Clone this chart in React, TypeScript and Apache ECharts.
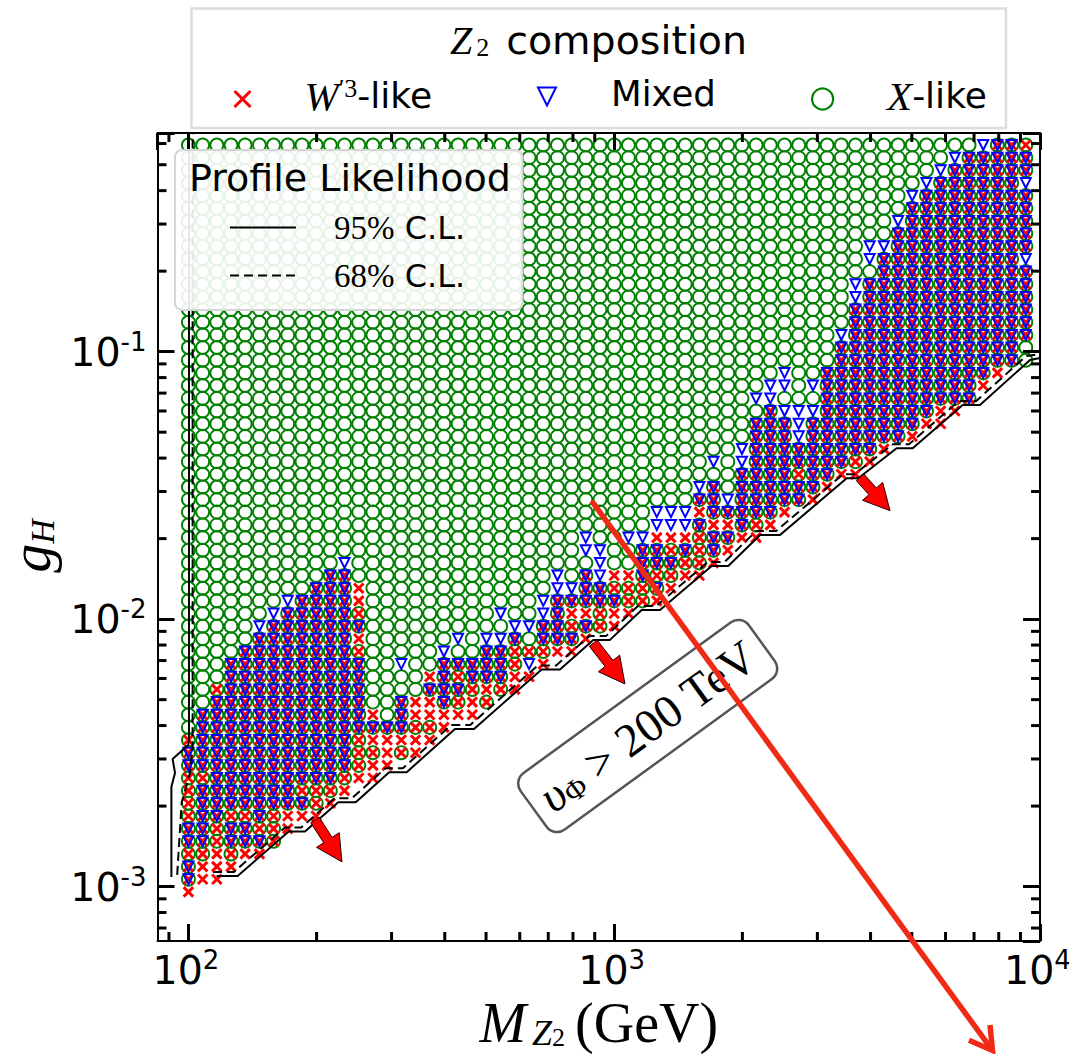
import React, { useEffect, useRef } from "react";
import * as echarts from "echarts";

const massGrid = [100,108,116.6,125.9,135.9,146.8,158.5,171.1,184.8,199.5,215.4,232.6,251.2,271.2,292.9,316.2,341.5,368.7,398.1,429.9,464.2,501.2,541.2,584.3,631,681.3,735.6,794.3,857.7,926.1,1000,1080,1166,1259,1359,1468,1585,1711,1848,1995,2154,2326,2512,2712,2929,3162,3415,3687,3981,4299,4642,5012,5412,5843,6310,6813,7356,7943,8577,9261];
const gGrid = [9.554e-4,1.0654e-3,1.188e-3,1.3247e-3,1.4772e-3,1.6472e-3,1.8368e-3,2.0482e-3,2.2839e-3,2.5468e-3,2.8399e-3,3.1668e-3,3.5312e-3,3.9377e-3,4.3908e-3,4.8962e-3,5.4597e-3,6.0881e-3,6.7888e-3,7.5701e-3,8.4413e-3,9.4129e-3,1.0496e-2,1.1704e-2,1.3051e-2,1.4554e-2,1.6229e-2,1.8097e-2,2.018e-2,2.2502e-2,2.5124e-2,2.798e-2,3.12e-2,3.4791e-2,3.8795e-2,4.3261e-2,4.824e-2,5.3792e-2,5.9983e-2,6.6887e-2,0.07472,0.08331,0.09291,0.10361,0.11554,0.12883,0.14367,0.1602,0.17864,0.19924,0.22218,0.24777,0.27629,0.3081,0.34358,0.38314,0.42725,0.47644,0.53129,0.59247];

// One string per mass column, bottom row upward.
// . no point, G X-like, R W'3-like, X W'3-like + X-like, B Mixed, T all three.
// A number repeats the letter; a final G runs to the top row.
const cellRuns = [
  "R T2 X T2 X4 T2 X G",
  ".1 R2 X T5 X T5 G",
  ".1 R3 X2 T10 X G",
  ".2 R X T2 X T12 G",
  ".3 R T2 X T13 G",
  ".3 R T X T15 B G",
  ".4 X3 T15 B G",
  ".5 R2 T16 B G",
  ".6 R T X T15 G",
  ".6 R X2 T16 G",
  ".7 R X T17 G",
  ".8 R X T16 B G",
  ".9 R X3 T6 X R T X R2 G",
  ".9 R2 X R T R G",
  ".10 R3 T G",
  ".11 X R T3 G2 B G",
  ".11 R2 X R2 G",
  ".12 R X R2 T R G",
  ".13 R2 T4 B G",
  ".14 R X T X T G B G",
  ".14 R2 X T2 G",
  ".15 X R T3 B G",
  ".16 X T3 B G B G",
  ".16 R2 X2 T B G",
  ".17 R B X G B G",
  ".18 R X T2 B2 G",
  ".19 R T4 B2 G",
  ".19 R T X R T B G",
  ".20 R T R T3 G B2 G",
  ".21 X2 T2 B3 G",
  ".21 R2 T X R G",
  ".22 R X2 R G2 B G",
  ".23 X2 T3 B G",
  ".23 R T X T2 R B2 G",
  ".24 R X T X R B2 G",
  ".25 R X T R B2 G",
  ".25 R X3 T R T B G",
  ".26 R T2 R T3 G B G",
  ".27 R T R T B G",
  ".28 R T5 B2 G",
  ".28 R X T8 G B G",
  ".29 R T9 B2 G",
  ".30 R T7 B G B2 G",
  ".31 T2 X T2 B3 G",
  ".31 R T6 B G B G",
  ".32 R T9 G",
  ".33 R T10 B G",
  ".33 R X T12 B2 G",
  ".34 R T14 G B2 G",
  ".35 R T15 B G",
  ".36 T17 B G",
  ".36 R T18 B G",
  ".37 R T18 B G",
  ".37 R2 T18 B G",
  ".38 R T19 B G",
  ".39 T20 G",
  ".40 R T18 B",
  ".41 R T18",
  ".42 T18",
  ".42 G2 T6 B T5 B T2 X",
];

const solid95Edge = [[91.2,1.087e-3],[91.2,2.359e-3],[93,2.66e-3],[91.8,3e-3],[99.9,3.385e-3],[100.3,3.536e-3],[100.3,0.657]];
const solid95Diagonal = [[116.5,1.0965e-3],[130.5,1.0965e-3],[172,1.6054e-3],[187.8,1.6054e-3],[224.8,2.0681e-3],[247.1,2.0681e-3],[296.2,2.677e-3],[325.5,2.677e-3],[422.7,3.887e-3],[468.5,3.887e-3],[675.4,6.486e-3],[745.8,6.486e-3],[892.9,8.364e-3],[977.3,8.364e-3],[1160,1.0824e-2],[1281,1.0824e-2],[1694,1.581e-2],[1853,1.581e-2],[2200,2.0645e-2],[2451,2.0645e-2],[3516,3.3624e-2],[3743,3.3624e-2],[4605,4.3543e-2],[5023,4.3543e-2],[6583,6.319e-2],[7228,6.319e-2],[9474,9.311e-2],[10000,9.472e-2]];
const dashed68Edge = [[94.1,1.106e-3],[96.4,2.056e-3],[100.8,2.66e-3],[102.3,3.328e-3],[102.3,0.657]];
const dashed68Diagonal = [[114.2,1.135e-3],[127.9,1.135e-3],[168.6,1.662e-3],[184,1.662e-3],[220.3,2.14e-3],[242.2,2.14e-3],[290.3,2.771e-3],[319,2.771e-3],[414.2,4.023e-3],[459.1,4.023e-3],[661.9,6.713e-3],[730.9,6.713e-3],[875,8.657e-3],[957.8,8.657e-3],[1137,1.12e-2],[1255,1.12e-2],[1660,1.636e-2],[1816,1.636e-2],[2156,2.137e-2],[2402,2.137e-2],[3446,3.48e-2],[3668,3.48e-2],[4513,4.507e-2],[4923,4.507e-2],[6451,6.54e-2],[7083,6.54e-2],[9285,9.637e-2],[10000,9.8e-2]];

const fatArrows = [
  [198.2,1.775e-3,229.4,1.237e-3],
  [892.9,8.128e-3,1060,5.723e-3],
  [3778,3.392e-2,4443,2.544e-2],
];
const longArrow = [[885.2,0.02766,7808,2.39e-4]];

const xTickExponents = [2,3,4];
const yTickExponents = [-3,-2,-1];
const xMinorTicks = [90,200,300,400,500,600,700,800,900,2000,3000,4000,5000,6000,7000,8000,9000];
const yMinorTicks = [7e-4,8e-4,9e-4,2e-3,3e-3,4e-3,5e-3,6e-3,7e-3,8e-3,9e-3,2e-2,3e-2,4e-2,5e-2,6e-2,7e-2,8e-2,9e-2,0.2,0.3,0.4,0.5,0.6];

const SANS = "DejaVu Sans";
const SERIF = "Liberation Serif";
const TICK_RICH = {
  b: { fontFamily: SANS, fontSize: 39.5, color: "#000", lineHeight: 46 },
  s: { fontFamily: SANS, fontSize: 26, color: "#000", lineHeight: 24, verticalAlign: "top", padding: [0, 5, 0, 0] },
};
const NAME_W = "W\u2032\u00b3-like";

function decodeCells() {
  const green: number[][] = [], red: number[][] = [], blue: number[][] = [];
  cellRuns.forEach((run, c) => {
    const tokens = run.split(" ");
    let r = 0;
    tokens.forEach((tok, i) => {
      const letter = tok[0];
      let n = tok.length > 1 ? parseInt(tok.slice(1), 10) : 1;
      if (letter === "G" && tok.length === 1 && i === tokens.length - 1) n = gGrid.length - r;
      for (let k = 0; k < n && r < gGrid.length; k++, r++) {
        const p = [massGrid[c], gGrid[r]];
        if (letter === "G" || letter === "X" || letter === "T") green.push(p);
        if (letter === "R" || letter === "X" || letter === "T") red.push(p);
        if (letter === "B" || letter === "T") blue.push(p);
      }
    });
  });
  return { green, red, blue };
}

function tickSide(a: number[], len: number, dx: number, dy: number) {
  return {
    type: "line",
    shape: { x1: a[0], y1: a[1], x2: a[0] + dx * len, y2: a[1] + dy * len },
    style: { stroke: "#000", lineWidth: 3 },
  };
}

function buildOption() {
  const { green, red, blue } = decodeCells();
  const axisLine = { show: true, onZero: false, lineStyle: { color: "#000", width: 2 } };
  const axisTick = { show: true, inside: true, length: 17, lineStyle: { color: "#000", width: 3 } };
  const xBase = { type: "log", logBase: 10, min: 84.6, max: 10000, splitLine: { show: false }, minorTick: { show: false }, axisLine, axisTick, z: 5 };
  const yBase = { type: "log", logBase: 10, min: 6.26e-4, max: 0.657, splitLine: { show: false }, minorTick: { show: false }, axisLine, axisTick, z: 5 };
  const legendItem = (name: string, left: number, top: number, fmt: string, rich: any, w: number, h: number, itemStyle: any) => ({
    data: [name], left, top, itemWidth: w, itemHeight: h, selectedMode: false, z: 8, padding: 0, itemStyle,
    formatter: () => fmt, textStyle: { color: "#000", rich },
  });
  const compRich = {
    m: { fontFamily: SERIF, fontStyle: "italic", fontSize: 41, color: "#000", padding: [0, 0, 7, 0] },
    p: { fontFamily: SERIF, fontSize: 26, color: "#000", verticalAlign: "top", lineHeight: 24 },
    t: { fontFamily: SANS, fontSize: 36, color: "#000", padding: [0, 0, 7, 0] },
  };
  const clRich = {
    m: { fontFamily: SERIF, fontSize: 33, color: "#000", padding: [0, 0, 0, 33] },
    t: { fontFamily: SANS, fontSize: 32, color: "#000" },
  };
  return {
    animation: false,
    backgroundColor: "#fff",
    grid: { left: 157.5, top: 133, width: 882.5, height: 808, containLabel: false, outerBoundsMode: "none" },
    xAxis: [
      {
        ...xBase, position: "bottom",
        axisLabel: {
          show: true, margin: 6, showMinLabel: false,
          formatter: (v: number) => {
            const e = Math.round(Math.log10(v));
            return xTickExponents.includes(e) && Math.abs(Math.log10(v) - e) < 1e-6 ? `{b|10}{s|${e}}` : "";
          },
          rich: TICK_RICH,
        },
        name: "{i|M}{z|Z}{n|2}{r|(GeV)}", nameLocation: "middle", nameGap: 43,
        nameTextStyle: {
          rich: {
            i: { fontFamily: SERIF, fontStyle: "italic", fontSize: 56, color: "#000", padding: [0, 6, 0, 0] },
            z: { fontFamily: SERIF, fontStyle: "italic", fontSize: 36, color: "#000", verticalAlign: "bottom", lineHeight: 42 },
            n: { fontFamily: SERIF, fontSize: 26, color: "#000", verticalAlign: "bottom", lineHeight: 30, padding: [0, 10, 0, 0] },
            r: { fontFamily: SERIF, fontSize: 56, color: "#000" },
          },
        },
      },
      { ...xBase, position: "top", axisLabel: { show: false } },
    ],
    yAxis: [
      {
        ...yBase, position: "left",
        axisLabel: {
          show: true, margin: 6, showMinLabel: false,
          formatter: (v: number) => {
            const e = Math.round(Math.log10(v));
            return yTickExponents.includes(e) && Math.abs(Math.log10(v) - e) < 1e-6 ? `{b|10}{s|${e}}` : "";
          },
          rich: TICK_RICH,
        },
        name: "{i|g}{h|H}", nameLocation: "middle", nameGap: 96, nameRotate: 90,
        nameTextStyle: {
          rich: {
            i: { fontFamily: SERIF, fontStyle: "italic", fontSize: 58, color: "#000" },
            h: { fontFamily: SERIF, fontStyle: "italic", fontSize: 34, color: "#000", verticalAlign: "bottom", lineHeight: 36, padding: [0, 18, 0, 0] },
          },
        },
      },
      { ...yBase, position: "right", axisLabel: { show: false } },
    ],
    legend: [
      legendItem(NAME_W, 233, 75, "{m|W}{p|\u20323}{t|-like}", { ...compRich, m: { ...compRich.m, padding: [0, 0, 7, 49] } }, 16, 16, { borderWidth: 3 }),
      legendItem("Mixed", 537, 75, "{t|Mixed}", { ...compRich, t: { ...compRich.t, fontSize: 35.5, padding: [0, 0, 7, 50] } }, 18, 18, { borderWidth: 2 }),
      legendItem("X-like", 811, 75, "{m|X}{t|-like}", { ...compRich, m: { ...compRich.m, padding: [0, 0, 7, 49] } }, 21, 21, { borderWidth: 2.2 }),
      legendItem("95% C.L.", 229, 211, "{m|95%}{t| C.L.}", clRich, 66, 14, { opacity: 0 }),
      legendItem("68% C.L.", 229, 259, "{m|68%}{t| C.L.}", clRich, 66, 14, { opacity: 0 }),
    ],
    graphic: {
      elements: [
        { type: "rect", z: 7, shape: { x: 191.5, y: 8.5, width: 814.5, height: 119.5 }, style: { fill: "#fff", stroke: "#dcdcdc", lineWidth: 2.5 } },
        {
          type: "text", z: 8, x: 450, y: 40,
          style: {
            text: "{m|Z}{s|2}{t|composition}", verticalAlign: "middle", align: "left",
            rich: {
              m: { fontFamily: SERIF, fontStyle: "italic", fontSize: 40, fill: "#000", padding: [0, 4, 0, 0] },
              s: { fontFamily: SERIF, fontSize: 26, fill: "#000", verticalAlign: "bottom", lineHeight: 34, padding: [0, 17, 0, 0] },
              t: { fontFamily: SANS, fontSize: 39.5, fill: "#000" },
            },
          },
        },
        { type: "rect", z: 7, shape: { x: 175, y: 150, width: 347.5, height: 160, r: 7 }, style: { fill: "rgba(255,255,255,0.9)", stroke: "#d5d5d5", lineWidth: 2 } },
        { type: "text", z: 8, x: 189, y: 178, style: { text: "Profile Likelihood", fontFamily: SANS, fontSize: 38, fill: "#000", verticalAlign: "middle" } },
        {
          type: "group", x: 647.7, y: 726, rotation: (36 * Math.PI) / 180, z: 1,
          children: [
            { type: "rect", z: 1, shape: { x: -141, y: -35, width: 282, height: 70, r: 13 }, style: { fill: "#fff", stroke: "#555", lineWidth: 2.5 } },
            {
              type: "text", z: 1, x: 0, y: 0,
              style: {
                text: "{i|\u03c5}{s|\u03a6}{r| > 200 TeV}", align: "center", verticalAlign: "middle",
                rich: {
                  i: { fontFamily: SERIF, fontStyle: "italic", fontSize: 47, fill: "#000" },
                  s: { fontFamily: SERIF, fontSize: 30, fill: "#000", verticalAlign: "bottom", lineHeight: 42 },
                  r: { fontFamily: SERIF, fontSize: 47, fill: "#000" },
                },
              },
            },
          ],
        },
      ],
    },
    series: [
      { name: "X-like", type: "scatter", data: green, z: 2, symbol: "circle", symbolSize: 13, itemStyle: { color: "transparent", borderColor: "#008000", borderWidth: 1.9, opacity: 1 }, silent: true },
      { name: NAME_W, type: "scatter", data: red, z: 2.1, symbol: "path://M0,0L10,10M10,0L0,10", symbolSize: 9.5, itemStyle: { color: "transparent", borderColor: "#ff0000", borderWidth: 3, opacity: 1 }, silent: true },
      { name: "Mixed", type: "scatter", data: blue, z: 2.2, symbol: "path://M0,0L10,0L5,10Z", symbolSize: 10, itemStyle: { color: "transparent", borderColor: "#0000ff", borderWidth: 2, opacity: 1 }, silent: true },
      { name: "95% C.L.", type: "line", data: solid95Diagonal, z: 3, symbol: "none", lineStyle: { color: "#000", width: 2 }, silent: true },
      { name: "95% C.L.", type: "line", data: solid95Edge, z: 3, symbol: "none", lineStyle: { color: "#000", width: 2 }, silent: true },
      { name: "68% C.L.", type: "line", data: dashed68Diagonal, z: 3, symbol: "none", lineStyle: { color: "#000", width: 2, type: [9, 5] }, silent: true },
      { name: "68% C.L.", type: "line", data: dashed68Edge, z: 3, symbol: "none", lineStyle: { color: "#000", width: 2, type: [9, 5] }, silent: true },
      {
        type: "custom", name: "xMinor", z: 4, silent: true, data: xMinorTicks.map((v) => [v, 0.01]),
        renderItem: (params: any, api: any) => {
          const x = api.coord([api.value(0), 0.01])[0];
          const cs = params.coordSys;
          return { type: "group", children: [tickSide([x, cs.y + cs.height], 9, 0, -1), tickSide([x, cs.y], 9, 0, 1)] };
        },
      },
      {
        type: "custom", name: "yMinor", z: 4, silent: true, data: yMinorTicks.map((v) => [100, v]),
        renderItem: (params: any, api: any) => {
          const y = api.coord([100, api.value(1)])[1];
          const cs = params.coordSys;
          return { type: "group", children: [tickSide([cs.x, y], 9, 1, 0), tickSide([cs.x + cs.width, y], 9, -1, 0)] };
        },
      },
      {
        type: "custom", name: "Arrows", z: 6, silent: true, data: fatArrows,
        renderItem: (_: any, api: any) => {
          const a = api.coord([api.value(0), api.value(1)]);
          const b = api.coord([api.value(2), api.value(3)]);
          const dx = b[0] - a[0], dy = b[1] - a[1], L = Math.hypot(dx, dy);
          const ux = dx / L, uy = dy / L, nx = -uy, ny = ux;
          const hl = 26, hw = 13.5, sw = 5;
          const bx = b[0] - ux * hl, by = b[1] - uy * hl;
          return {
            type: "polygon",
            shape: {
              points: [
                [a[0] + nx * sw, a[1] + ny * sw], [bx + nx * sw, by + ny * sw], [bx + nx * hw, by + ny * hw], b,
                [bx - nx * hw, by - ny * hw], [bx - nx * sw, by - ny * sw], [a[0] - nx * sw, a[1] - ny * sw],
              ],
            },
            style: { fill: "#ff0000", stroke: "#220000", lineWidth: 1 },
          };
        },
      },
      {
        type: "custom", name: "Exclusion arrow", z: 6, silent: true, data: longArrow,
        renderItem: (_: any, api: any) => {
          const a = api.coord([api.value(0), api.value(1)]);
          const b = api.coord([api.value(2), api.value(3)]);
          const dx = b[0] - a[0], dy = b[1] - a[1], L = Math.hypot(dx, dy);
          const ux = dx / L, uy = dy / L, nx = -uy, ny = ux;
          const st = { stroke: "#f02a14", lineWidth: 5.5, fill: "none" };
          return {
            type: "group",
            children: [
              { type: "line", shape: { x1: a[0], y1: a[1], x2: b[0] - ux * 3, y2: b[1] - uy * 3 }, style: st },
              {
                type: "polyline",
                shape: { points: [[b[0] - ux * 25 + nx * 13, b[1] - uy * 25 + ny * 13], [b[0] - ux * 3, b[1] - uy * 3], [b[0] - ux * 25 - nx * 13, b[1] - uy * 25 - ny * 13]] },
                style: st,
              },
            ],
          };
        },
      },
    ],
  };
}

export default function App() {
  const ref = useRef<HTMLDivElement>(null);
  useEffect(() => {
    if (!ref.current) return;
    const chart = echarts.init(ref.current, undefined, { renderer: "svg" });
    chart.setOption(buildOption() as any);
    return () => chart.dispose();
  }, []);
  return <div ref={ref} style={{ position: "absolute", left: 0, top: 0, width: 1069, height: 1054 }} />;
}
